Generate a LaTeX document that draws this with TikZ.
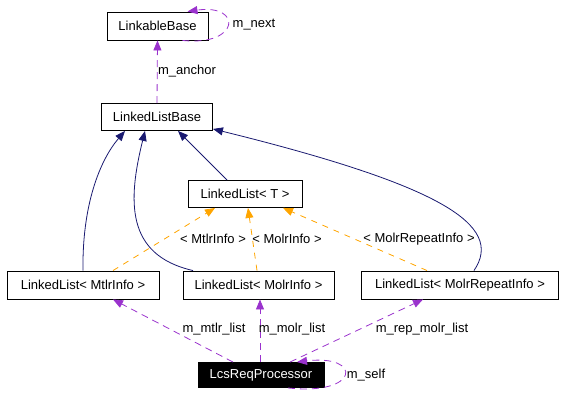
\documentclass[tikz,border=0pt]{standalone}
\usepackage{fontspec}
\setmainfont{Liberation Sans}
\usetikzlibrary{
    arrows.meta,
    positioning,
    calc
}
\definecolor{inhcol}{HTML}{191970}
\definecolor{memcol}{HTML}{9A32CD}
\definecolor{tplcol}{HTML}{FFA500}

\begin{document}
\begin{tikzpicture}[
    x=1pt, y=-1pt,
    font=\fontsize{13}{15}\selectfont,
    cls/.style={
        rectangle,
        draw=black,
        line width=0.9pt,
        inner sep=0pt,
        minimum height=27pt,
        align=center
    },
    inherit/.style={-{Triangle[length=10pt,width=8pt]}, draw=inhcol, line width=0.8pt},
    member/.style={-{Triangle[length=10pt,width=8pt]}, draw=memcol, line width=0.8pt,
        dash pattern=on 7pt off 5pt},
    tmpl/.style={-{Triangle[length=10pt,width=8pt]}, draw=tplcol, line width=0.8pt,
        dash pattern=on 6pt off 6pt},
    lbl/.style={inner sep=1pt}
]
\useasboundingbox (0,0) rectangle (565,403);

% Classes
\node[cls, minimum width=101pt, minimum height=28pt] (linkable) at (157.5, 26) {LinkableBase};
\node[cls, minimum width=111pt] (base) at (157, 117) {LinkedListBase};
\node[cls, minimum width=114pt] (tlist) at (245, 194) {LinkedList< T >};
\node[cls, minimum width=152pt, minimum height=28pt] (mtlr) at (83, 285) {LinkedList< MtlrInfo >};
\node[cls, minimum width=151pt, minimum height=28pt] (molr) at (258.5, 285) {LinkedList< MolrInfo >};
\node[cls, minimum width=197pt, minimum height=28pt] (rep) at (460, 285) {LinkedList< MolrRepeatInfo >};
\node[cls, minimum width=126pt, minimum height=25pt, fill=black, text=white] (lcs) at (261, 375) {LcsReqProcessor};

% Members of LinkableBase / LinkedListBase
\draw[member] ([xshift=25]linkable.south) .. controls +(58,6) and +(55,-8) .. ([xshift=30]linkable.north);
\node[lbl] (nextlbl) at (254, 25) {m\_next};
\draw[member] (base.north) -- (linkable.south);
\node[lbl] (anchorlbl) at (187, 71) {m\_anchor};

% Inheritance
\draw[inherit] (mtlr.north) .. controls (82,205) and (100,160) .. ([xshift=-32]base.south);
\draw[inherit] ([xshift=-65.5]molr.north) .. controls (125,255) and (128,200) .. ([xshift=-12]base.south);
\draw[inherit] ([xshift=-18]tlist.north) -- ([xshift=21]base.south);
\draw[inherit] ([xshift=14]rep.north) .. controls (505,225) and (440,185) .. ([yshift=2]base.south east);

% Template instances
\draw[tmpl] ([xshift=30]mtlr.north) -- ([xshift=-30]tlist.south);
\draw[tmpl] ([xshift=-1.5]molr.north) -- ([xshift=3]tlist.south);
\draw[tmpl] ([xshift=-33]rep.north) -- ([xshift=38]tlist.south);
\node[lbl] (mtlrtpl) at (213, 239) {< MtlrInfo >};
\node[lbl] (molrtpl) at (287, 239) {< MolrInfo >};
\node[lbl] (reptpl) at (419, 239) {< MolrRepeatInfo >};

% Members of LcsReqProcessor
\draw[member] ([xshift=-28]lcs.north) -- ([xshift=30]mtlr.south);
\draw[member] ([xshift=-1]lcs.north) -- ([xshift=1.5]molr.south);
\draw[member] ([xshift=29]lcs.north) -- ([xshift=-37]rep.south);
\draw[member] ([xshift=27]lcs.south) .. controls +(72,8) and +(66,-8) .. ([xshift=36]lcs.north);
\node[lbl] (mtlrlbl) at (214, 329) {m\_mtlr\_list};
\node[lbl] (molrlbl) at (292, 329) {m\_molr\_list};
\node[lbl] (replbl) at (422, 329) {m\_rep\_molr\_list};
\node[lbl] (selflbl) at (366, 375) {m\_self};

\end{tikzpicture}
\end{document}
